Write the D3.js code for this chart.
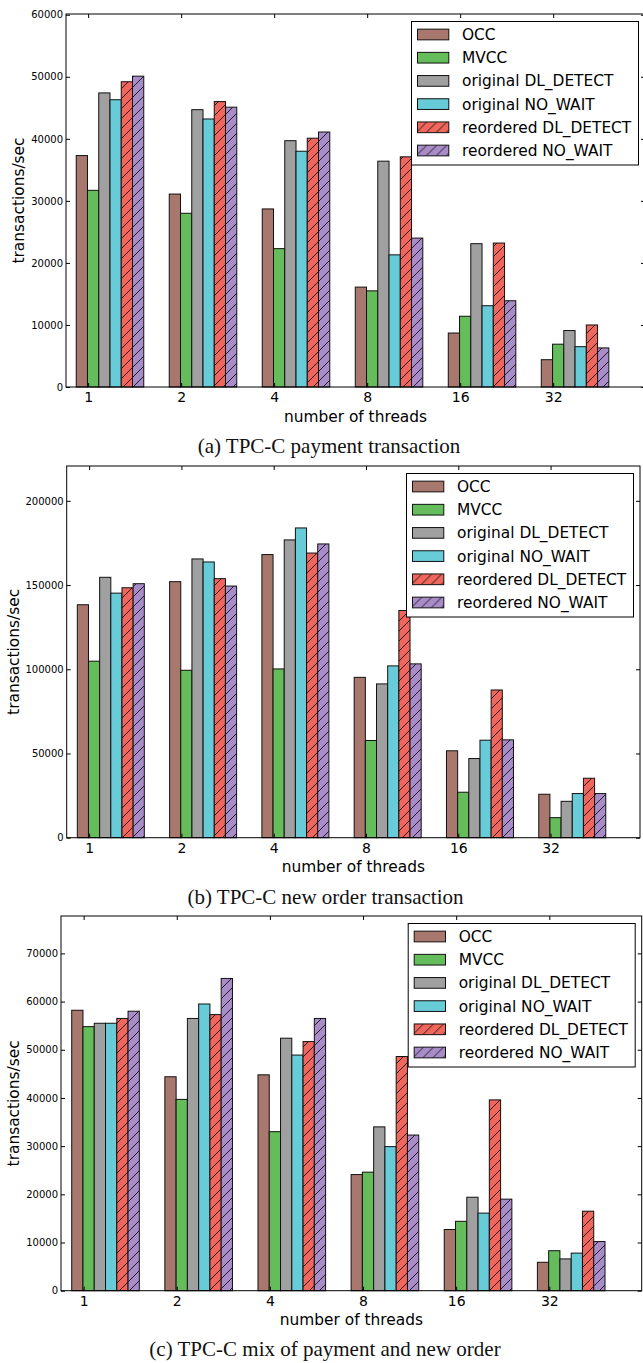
<!DOCTYPE html>
<html>
<head>
<meta charset="utf-8">
<script src="https://cdn.jsdelivr.net/npm/d3@7"></script>
<style>
  html, body { margin: 0; padding: 0; background: #fff; }
  svg { display: block; }
</style>
</head>
<body>
<svg id="fig" width="643" height="1363"></svg>
<script>
// ---- data -------------------------------------------------------------
const threadLabels = ["1", "2", "4", "8", "16", "32"];
const seriesNames = ["OCC", "MVCC", "original DL_DETECT", "original NO_WAIT",
                     "reordered DL_DETECT", "reordered NO_WAIT"];
const seriesColors = ["#a8786e", "#64bc5a", "#a0a0a0", "#68ccd8", "#ee665c", "#a88cc8"];
const seriesHatched = [false, false, false, false, true, true];

// rows follow seriesNames, columns follow threadLabels (transactions/sec)
const paymentTps = [
  [37300, 31100, 28700, 16100,  8700,  4400],
  [31700, 28000, 22300, 15500, 11400,  6900],
  [47400, 44700, 39700, 36400, 23100,  9100],
  [46300, 43200, 38000, 21300, 13100,  6500],
  [49200, 46000, 40100, 37100, 23200, 10000],
  [50100, 45100, 41100, 24000, 13900,  6300]
];
const newOrderTps = [
  [138300, 152000, 168100,  95200, 51600, 25800],
  [104800,  99400, 100200,  57700, 27000, 11900],
  [154600, 165500, 176800,  91300, 47000, 21600],
  [145200, 163700, 183900, 102000, 57900, 26200],
  [148400, 153800, 169000, 134900, 87700, 35300],
  [150800, 149400, 174400, 103200, 58100, 26200]
];
const mixTps = [
  [58200, 44400, 44800, 24100, 12700,  5900],
  [54800, 39700, 33000, 24600, 14400,  8300],
  [55500, 56500, 52400, 34000, 19400,  6600],
  [55500, 59500, 48900, 29900, 16100,  7800],
  [56500, 57300, 51700, 48600, 39600, 16500],
  [58000, 64800, 56500, 32300, 19000, 10200]
];

const paymentYTicks  = [0, 10000, 20000, 30000, 40000, 50000, 60000];
const newOrderYTicks = [0, 50000, 100000, 150000, 200000];
const mixYTicks      = [0, 10000, 20000, 30000, 40000, 50000, 60000, 70000];

const captions = ["(a) TPC-C payment transaction",
                  "(b) TPC-C new order transaction",
                  "(c) TPC-C mix of payment and new order"];
const xAxisTitle = "number of threads";
const yAxisTitle = "transactions/sec";

// ---- layout -----------------------------------------------------------
const panels = [
  { values: paymentTps,  yTicks: paymentYTicks,  caption: captions[0],
    left: 66,   right: 645,   top: 14,  bottom: 387,
    xMin: -0.11,  xMax: 6.115, yTitleX: 24, captionX: 329, captionY: 453 },
  { values: newOrderTps, yTicks: newOrderYTicks, caption: captions[1],
    left: 66.7, right: 640,   top: 466, bottom: 837.7,
    xMin: -0.115, xMax: 6.097, yTitleX: 19, captionX: 325.5, captionY: 904 },
  { values: mixTps,      yTicks: mixYTicks,      caption: captions[2],
    left: 61,   right: 641.7, top: 916, bottom: 1290.7,
    xMin: -0.115, xMax: 6.12,  yTitleX: 19, captionX: 325, captionY: 1356 }
];

const barWidth = 0.121;     // in x units, six bars per thread group
const tickOffset = 0.128;   // tick sits near the start of each group
const tickLen = 4;
const sansFont = "'DejaVu Sans', sans-serif";
const serifFont = "'Liberation Serif', 'Times New Roman', serif";

const svg = d3.select("#fig");

// hatch patterns ("/" lines over the series colour)
const defs = svg.append("defs");
const hatchSize = 10;
seriesColors.forEach((c, k) => {
  if (!seriesHatched[k]) return;
  const p = defs.append("pattern")
    .attr("id", "hatch" + k)
    .attr("patternUnits", "userSpaceOnUse")
    .attr("width", hatchSize).attr("height", hatchSize);
  p.append("rect").attr("width", hatchSize).attr("height", hatchSize).attr("fill", c);
  p.append("path")
    .attr("d", `M0,${hatchSize} L${hatchSize},0 M${-hatchSize/4},${hatchSize/4} L${hatchSize/4},${-hatchSize/4} M${hatchSize*0.75},${hatchSize*1.25} L${hatchSize*1.25},${hatchSize*0.75}`)
    .attr("stroke", "#000").attr("stroke-width", 0.8).attr("fill", "none");
});
const fillFor = k => seriesHatched[k] ? `url(#hatch${k})` : seriesColors[k];

panels.forEach(P => {
  const g = svg.append("g");
  const x = d3.scaleLinear().domain([P.xMin, P.xMax]).range([P.left, P.right]);
  const yMax = 1.2 * d3.max(P.values, row => d3.max(row));
  const y = d3.scaleLinear().domain([0, yMax]).range([P.bottom, P.top]);
  const unitW = x(barWidth) - x(0);

  // bars
  P.values.forEach((row, k) => {
    g.append("g").selectAll("rect")
      .data(row)
      .join("rect")
      .attr("x", (v, i) => x(i + k * barWidth))
      .attr("y", v => y(v))
      .attr("width", unitW)
      .attr("height", v => y(0) - y(v))
      .attr("fill", fillFor(k))
      .attr("stroke", "#111")
      .attr("stroke-width", 1);
  });

  const tickPos = threadLabels.map((t, i) => i + tickOffset);
  const labelOf = d3.scaleOrdinal().domain(tickPos).range(threadLabels);

  // bottom axis (inward ticks)
  const xb = g.append("g").attr("transform", `translate(0,${P.bottom})`)
    .call(d3.axisBottom(x).tickValues(tickPos).tickFormat(d => labelOf(d))
      .tickSizeInner(-tickLen).tickSizeOuter(0).tickPadding(5.5));
  xb.select(".domain").remove();
  xb.selectAll("text").attr("font-family", sansFont).attr("font-size", 14).attr("fill", "#000");
  xb.selectAll("line").attr("stroke", "#000");

  // top axis ticks
  const xt = g.append("g").attr("transform", `translate(0,${P.top})`)
    .call(d3.axisTop(x).tickValues(tickPos).tickFormat("")
      .tickSizeInner(-tickLen).tickSizeOuter(0));
  xt.select(".domain").remove();
  xt.selectAll("line").attr("stroke", "#000");

  // left axis
  const yl = g.append("g").attr("transform", `translate(${P.left},0)`)
    .call(d3.axisLeft(y).tickValues(P.yTicks).tickFormat(d3.format("d"))
      .tickSizeInner(-tickLen).tickSizeOuter(0).tickPadding(3));
  yl.select(".domain").remove();
  yl.selectAll("text").attr("font-family", sansFont).attr("font-size", 10).attr("fill", "#000");
  yl.selectAll("line").attr("stroke", "#000");

  // right axis ticks
  const yr = g.append("g").attr("transform", `translate(${P.right},0)`)
    .call(d3.axisRight(y).tickValues(P.yTicks).tickFormat("")
      .tickSizeInner(-tickLen).tickSizeOuter(0));
  yr.select(".domain").remove();
  yr.selectAll("line").attr("stroke", "#000");

  // frame
  g.append("rect")
    .attr("x", P.left).attr("y", P.top)
    .attr("width", P.right - P.left).attr("height", P.bottom - P.top)
    .attr("fill", "none").attr("stroke", "#000").attr("stroke-width", 1);

  // axis titles
  g.append("text")
    .attr("x", (P.left + P.right) / 2).attr("y", P.bottom + 34.5)
    .attr("text-anchor", "middle")
    .attr("font-family", sansFont).attr("font-size", 15.4)
    .text(xAxisTitle);
  g.append("text")
    .attr("transform", `translate(${P.yTitleX},${(P.top + P.bottom) / 2}) rotate(-90)`)
    .attr("text-anchor", "middle")
    .attr("font-family", sansFont).attr("font-size", 15.4)
    .text(yAxisTitle);

  // legend (upper right)
  const lgW = 227, lgH = 143.5, rowH = 23.2;
  const lgX = P.right - 6.5 - lgW, lgY = P.top + 7.5;
  const lg = g.append("g").attr("transform", `translate(${lgX},${lgY})`);
  lg.append("rect").attr("width", lgW).attr("height", lgH)
    .attr("fill", "#fff").attr("stroke", "#000").attr("stroke-width", 1);
  const rows = lg.selectAll("g.row").data(seriesNames).join("g")
    .attr("class", "row")
    .attr("transform", (d, k) => `translate(0,${13 + k * rowH})`);
  rows.append("rect")
    .attr("x", 6).attr("y", -5.35).attr("width", 31.3).attr("height", 10.7)
    .attr("fill", (d, k) => fillFor(k))
    .attr("stroke", "#111").attr("stroke-width", 1);
  rows.append("text")
    .attr("x", 50.5).attr("y", 5.4)
    .attr("font-family", sansFont).attr("font-size", 15.4)
    .text(d => d);

  // caption
  svg.append("text")
    .attr("x", P.captionX).attr("y", P.captionY)
    .attr("text-anchor", "middle")
    .attr("font-family", serifFont).attr("font-size", 21)
    .attr("fill", "#111")
    .text(P.caption);
});
</script>
</body>
</html>
